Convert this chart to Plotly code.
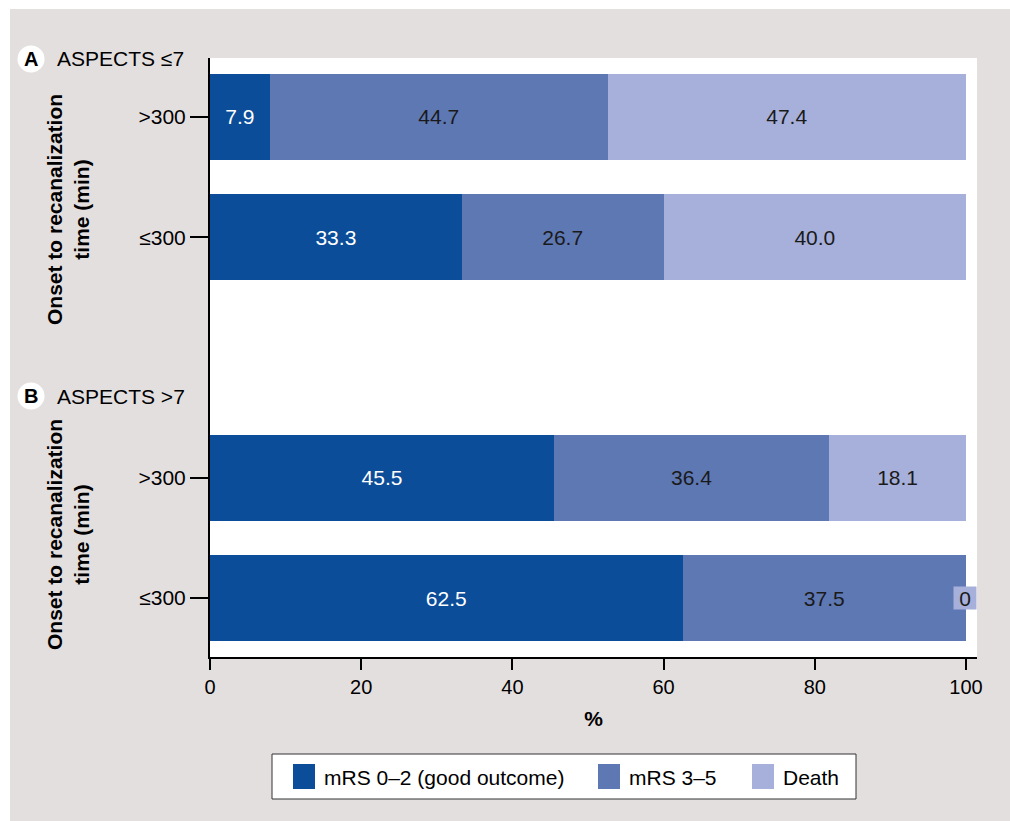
import plotly.graph_objects as go

# ---------------- data ----------------
groups = ["A", "A", "B", "B"]
times = [">300", "≤300", ">300", "≤300"]
mrs_good = [7.9, 33.3, 45.5, 62.5]
mrs_mid = [44.7, 26.7, 36.4, 37.5]
death = [47.4, 40.0, 18.1, 0.0]
series_names = ["mRS 0–2 (good outcome)", "mRS 3–5", "Death"]
panel_titles = {"A": "ASPECTS ≤7", "B": "ASPECTS >7"}
x_ticks = [0, 20, 40, 60, 80, 100]

# ---------------- style ----------------
colors = ["#0b4d99", "#5e78b4", "#a6b0da"]
text_colors = ["white", "#1a1a1a", "#1a1a1a"]
BG = "#e4dfdf"
FONT = "Liberation Sans, Arial, sans-serif"
FS = 21

cats = [f"{g} {t}" for g, t in zip(groups, times)]
gap_cat = " "
cat_order = cats[:2] + [gap_cat] + cats[2:]

W, H = 1010, 821
ML, MR, MT, MB = 210, 33, 58, 164
PW, PH = W - ML - MR, H - MT - MB


def px(x):
    return (x - ML) / PW


def py(y):
    return (H - MB - y) / PH


fig = go.Figure()
for name, vals, col, tcol in zip(series_names, [mrs_good, mrs_mid, death], colors, text_colors):
    fig.add_trace(go.Bar(
        y=cats, x=vals, name=name, orientation="h",
        marker=dict(color=col, line=dict(width=0)),
        text=[f"{v:.1f}" if v > 0 else "" for v in vals],
        textposition="inside", insidetextanchor="middle", textangle=0,
        insidetextfont=dict(color=tcol, size=FS, family=FONT),
        hoverinfo="x+name", showlegend=False,
    ))

# zero-valued segment label
totals = [a + b + c for a, b, c in zip(mrs_good, mrs_mid, death)]
annotations = []
for c, v, tot in zip(cats, death, totals):
    if v == 0:
        annotations.append(dict(
            x=tot, y=c, xref="x", yref="y", text=f"{v:g}", showarrow=False,
            bgcolor=colors[2], font=dict(size=FS, color="#1a1a1a", family=FONT),
            xanchor="center", yanchor="middle", width=22, height=22, borderpad=0,
            xshift=-1,
        ))

shapes = [
    # white outer strips
    dict(type="rect", xref="paper", yref="paper", x0=px(0), x1=px(10), y0=py(H), y1=py(0),
         fillcolor="white", line=dict(width=0), layer="below"),
    dict(type="rect", xref="paper", yref="paper", x0=px(0), x1=px(W), y0=py(9), y1=py(0),
         fillcolor="white", line=dict(width=0), layer="below"),
]

panel_pos = {"A": 59, "B": 396}
ytitle_pos = {"A": 210, "B": 535}
for g in ["A", "B"]:
    yc = panel_pos[g]
    shapes.append(dict(type="circle", xref="paper", yref="paper",
                       xsizemode="pixel", ysizemode="pixel",
                       xanchor=px(31), yanchor=py(yc), x0=-13.5, x1=13.5, y0=-13.5, y1=13.5,
                       fillcolor="white", line=dict(width=0)))
    annotations.append(dict(x=px(31), y=py(yc), xref="paper", yref="paper", text=f"<b>{g}</b>",
                            showarrow=False, font=dict(size=20, color="black", family=FONT),
                            xanchor="center", yanchor="middle"))
    annotations.append(dict(x=px(55), y=py(yc), xref="paper", yref="paper", text=panel_titles[g],
                            showarrow=False, font=dict(size=FS, color="black", family=FONT),
                            xanchor="left", yanchor="middle"))
    annotations.append(dict(x=px(68), y=py(ytitle_pos[g]), xref="paper", yref="paper",
                            text="<b>Onset to recanalization<br>time (min)</b>", textangle=-90,
                            showarrow=False, font=dict(size=FS, color="black", family=FONT),
                            xanchor="center", yanchor="middle"))

# manual legend (larger swatches like the reference)
shapes.append(dict(type="rect", xref="paper", yref="paper", x0=px(272), x1=px(856),
                   y0=py(799), y1=py(754), fillcolor="white",
                   line=dict(color="#333333", width=1)))
leg_sw = [293, 598, 752]
for name, col, sx in zip(series_names, colors, leg_sw):
    shapes.append(dict(type="rect", xref="paper", yref="paper", x0=px(sx), x1=px(sx + 22),
                       y0=py(789), y1=py(764), fillcolor=col, line=dict(width=0)))
    annotations.append(dict(x=px(sx + 29), y=py(777), xref="paper", yref="paper", text=name,
                            showarrow=False, font=dict(size=FS, color="black", family=FONT),
                            xanchor="left", yanchor="middle"))

fig.update_layout(
    width=W, height=H,
    margin=dict(l=ML, r=MR, t=MT, b=MB, pad=0),
    paper_bgcolor=BG, plot_bgcolor="white",
    barmode="stack", bargap=0.286,
    font=dict(family=FONT, size=FS, color="black"),
    showlegend=False,
    xaxis=dict(range=[0, 101.45], tickvals=x_ticks, ticks="outside", ticklen=11, tickwidth=2,
               tickcolor="black", showline=True, linecolor="black", linewidth=2,
               showgrid=False, zeroline=False, fixedrange=True,
               tickfont=dict(size=20, family=FONT),
               title=dict(text="<b>%</b>", standoff=14, font=dict(size=FS, family=FONT))),
    yaxis=dict(type="category", categoryarray=cat_order, range=[4.49, -0.49],
               tickvals=cats, ticktext=times, ticks="outside", ticklen=18, tickwidth=2,
               tickcolor="black", showline=True, linecolor="black", linewidth=2,
               showgrid=False, zeroline=False, fixedrange=True),
    annotations=annotations, shapes=shapes,
)

fig.write_html("out.html")
